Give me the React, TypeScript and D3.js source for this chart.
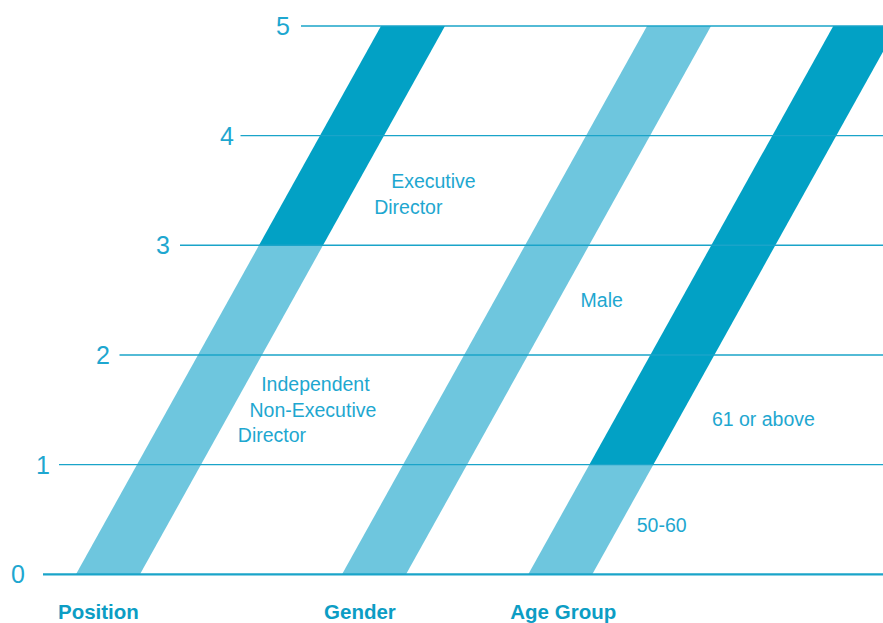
import React from "react";
import * as d3 from "d3";

// ---- data ----
const categories = ["Position", "Gender", "Age Group"];
// abstract slot position of each category along the baseline
const categorySlots = [0, 10, 17];
const segmentNames = [
  ["Independent\nNon-Executive\nDirector", "Executive\nDirector"],
  ["Male"],
  ["50-60", "61 or above"],
];
const segmentValues = [
  [3, 2],
  [5],
  [1, 4],
];
// which shade each segment uses (0 light, 1 dark)
const segmentShades = [
  [0, 1],
  [0],
  [0, 1],
];
const yTicks = [0, 1, 2, 3, 4, 5];

// ---- label layout (value at which label sits, dx from bar right edge) ----
const labelAnchors = [
  [{ v: 1.5, dx: 18 }, { v: 3.47, dx: 31 }],
  [{ v: 2.5, dx: 22 }],
  [{ v: 0.45, dx: 17 }, { v: 1.42, dx: 33 }],
];

const W = 883;
const H = 623;
const LIGHT = "#6ec6de";
const DARK = "#02a1c5";
const GRID = "#1aa4c9";
const TEXT = "#1ea7d0";
const BOLD = "#0c9dc4";
const FONT = "'Liberation Sans', Arial, Helvetica, sans-serif";

export default function App() {
  const y = d3.scaleLinear().domain([0, 5]).range([574.3, 26]);
  const x = d3.scaleLinear().domain([0, 17]).range([76, 528.3]);
  const skew = 61; // px of horizontal shift per unit value
  const barW = 64;
  const gridStart = (v: number) => (v === 0 ? 43 : 60.5 * v - 1.5);
  const tickRight = (v: number) => (v === 0 ? 25 : v === 4 ? 234 : 60 * v - 10);

  const bars: React.ReactNode[] = [];
  const labels: React.ReactNode[] = [];
  categories.forEach((cat, ci) => {
    const x0 = x(categorySlots[ci]);
    let acc = 0;
    segmentValues[ci].forEach((val, si) => {
      const a = acc;
      const b = acc + val;
      acc = b;
      const pts: [number, number][] = [
        [x0 + a * skew, y(a)],
        [x0 + a * skew + barW, y(a)],
        [x0 + b * skew + barW, y(b)],
        [x0 + b * skew, y(b)],
      ];
      bars.push(
        <path
          key={`b${ci}-${si}`}
          d={d3.line()(pts) + "Z"}
          fill={segmentShades[ci][si] ? DARK : LIGHT}
        />
      );
      const an = labelAnchors[ci][si];
      const lines = segmentNames[ci][si].split("\n");
      const cy = y(an.v);
      const lx = x0 + an.v * skew + barW + an.dx;
      const lh = 25.5;
      const n = lines.length;
      lines.forEach((ln, li) => {
        const off = li - (n - 1) / 2;
        labels.push(
          <text
            key={`l${ci}-${si}-${li}`}
            x={lx - off * (n === 2 ? 17 : 11.7)}
            y={cy + off * lh + 7}
            fill={TEXT}
            fontFamily={FONT}
            fontSize={19.5}
          >
            {ln}
          </text>
        );
      });
    });
    labels.push(
      <text
        key={`c${ci}`}
        x={x0 - 18}
        y={618.5}
        fill={BOLD}
        fontFamily={FONT}
        fontWeight="bold"
        fontSize={20.5}
      >
        {cat}
      </text>
    );
  });

  return (
    <svg
      width={W}
      height={H}
      style={{ position: "absolute", left: 0, top: 0, display: "block" }}
    >
      <rect width={W} height={H} fill="#fff" />
      {bars}
      {yTicks.map((t) => (
        <g key={t}>
          <line
            x1={gridStart(t)}
            x2={W}
            y1={y(t)}
            y2={y(t)}
            stroke={GRID}
            strokeWidth={t === 0 ? 2.2 : 1.4}
          />
          <text
            x={tickRight(t)}
            y={y(t) + 9}
            textAnchor="end"
            fill={TEXT}
            fontFamily={FONT}
            fontSize={25}
          >
            {t}
          </text>
        </g>
      ))}
      {labels}
    </svg>
  );
}
